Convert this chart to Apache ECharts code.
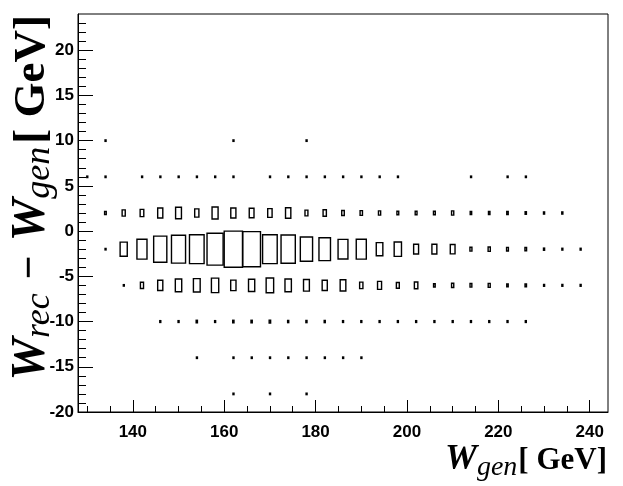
<!DOCTYPE html>
<html><head><meta charset="utf-8">
<script src="https://cdn.jsdelivr.net/npm/echarts@6/dist/echarts.min.js"></script>
<style>html,body{margin:0;padding:0;background:#fff}#c{width:623px;height:486px}</style>
</head><body><div id="c"></div>
<script>
// bin centres (GeV), bin width 4
const xCenters = [130,134,138,142,146,150,154,158,162,166,170,174,178,182,186,190,194,198,202,206,210,214,218,222,226,230,234,238,242];
const yCenters = [10, 6, 2, -2, -6, -10, -14, -18];
// relative bin contents per row (box size proportional to content)
const rowP10 = [0,4,0,0,0,0,0,0,4,0,0,0,4,0,0,0,0,0,0,0,0,0,0,0,0,0,0,0,0];
const rowP6  = [4,4,0,4,4,4,4,4,4,0,4,4,4,4,4,4,4,4,0,0,0,4,0,4,4,0,0,0,0];
const rowP2  = [0,9,17,20,28,32,23,33,28,26,24,29,16,18,14,13,12,10,10,10,12,8,8,8,7,6,6,0,0];
const rowM2  = [0,4,39,55,72,77,80,88,100,97,80,78,67,63,54,55,36,40,27,27,26,11,12,10,9,6,5,5,0];
const rowM6  = [0,0,4,17,28,35,37,40,29,34,41,35,32,28,31,18,22,16,19,9,12,10,11,8,8,5,5,5,0];
const rowM10 = [0,0,0,0,5,5,7,5,7,7,8,6,6,6,5,5,5,5,5,5,5,5,5,5,5,0,0,0,0];
const rowM14 = [0,0,0,0,0,0,4,0,4,4,4,4,4,4,4,4,0,0,0,0,0,0,0,0,0,0,0,0,0];
const rowM18 = [0,0,0,0,0,0,0,0,4,0,4,0,4,0,0,0,0,0,0,0,0,0,0,0,0,0,0,0,0];
const rows = [rowP10, rowP6, rowP2, rowM2, rowM6, rowM10, rowM14, rowM18];

const xLabels = [140,160,180,200,220,240];
const xMinor = [130,135,140,145,150,155,160,165,170,175,180,185,190,195,200,205,210,215,220,225,230,235,240];
const yLabels = [-20,-15,-10,-5,0,5,10,15,20];
const yMinor = [];
for (let v = -19; v <= 23; v++) yMinor.push(v);

const binW = 4, binH = 4;
let maxV = 0;
const data = [];
rows.forEach((r, j) => r.forEach((v, i) => {
  if (v > 0) { data.push([xCenters[i], yCenters[j], v]); if (v > maxV) maxV = v; }
}));

// text measuring for composed titles
const mctx = document.createElement('canvas').getContext('2d');
function tw(text, font) { mctx.font = font; return mctx.measureText(text).width; }
const SERIF = 'Liberation Serif';
function part(text, size, italic, bold, dy, gap) {
  return {text, size, italic, bold, dy, gap: gap || 0,
          font: (italic ? 'italic ' : '') + (bold ? 'bold ' : '') + size + 'px "' + SERIF + '"'};
}
// build children laid out along local x; baseline at local y=0
function buildTitle(parts) {
  let x = 0; const children = [];
  parts.forEach(p => {
    x += p.gap;
    children.push({type: 'text', x: x, y: p.dy + 0.216 * p.size,
      style: {text: p.text, fontFamily: SERIF, fontSize: p.size,
              fontStyle: p.italic ? 'italic' : 'normal', fontWeight: p.bold ? 'bold' : 'normal',
              fill: '#000', align: 'left', verticalAlign: 'bottom'}});
    x += tw(p.text, p.font);
  });
  return {children, width: x};
}
const xt = buildTitle([part('W', 36, true, true, 0), part('gen', 28, true, false, 6), part('[ GeV]', 31, false, true, 0, 1)]);
const yt = buildTitle([part('W', 48, true, true, 0), part('rec', 36, true, false, 5), part('−', 42, false, true, -2, 14),
                       part('W', 48, true, true, 0, 14), part('gen', 36, true, false, 5), part('[ GeV]', 45, false, true, 0, 3)]);

const chart = echarts.init(document.getElementById('c'), null, {renderer: 'canvas'});
const lblFont = {color: '#000', fontFamily: 'Liberation Sans', fontWeight: 'bold', fontSize: 17};
const option = {
  backgroundColor: '#fff',
  animation: false,
  grid: {left: 78, right: 15, top: 14, bottom: 74, show: true, borderColor: '#000', borderWidth: 1, backgroundColor: 'transparent'},
  xAxis: [
    {type: 'value', min: 128, max: 244, position: 'bottom',
     axisLine: {show: true, onZero: false, lineStyle: {color: '#000', width: 1}},
     axisTick: {show: true, inside: true, length: 12, customValues: xLabels, lineStyle: {color: '#000'}},
     axisLabel: Object.assign({show: true, margin: 12, customValues: xLabels}, lblFont),
     splitLine: {show: false}},
    {type: 'value', min: 128, max: 244, position: 'bottom',
     axisLine: {show: false, onZero: false},
     axisTick: {show: true, inside: true, length: 6, customValues: xMinor, lineStyle: {color: '#000'}},
     axisLabel: {show: false}, splitLine: {show: false}}
  ],
  yAxis: [
    {type: 'value', min: -20, max: 24, position: 'left',
     axisLine: {show: true, onZero: false, lineStyle: {color: '#000', width: 1}},
     axisTick: {show: true, inside: true, length: 15, customValues: yLabels, lineStyle: {color: '#000'}},
     axisLabel: Object.assign({show: true, margin: 4, customValues: yLabels}, lblFont),
     splitLine: {show: false}},
    {type: 'value', min: -20, max: 24, position: 'left',
     axisLine: {show: false, onZero: false},
     axisTick: {show: true, inside: true, length: 8, customValues: yMinor, lineStyle: {color: '#000'}},
     axisLabel: {show: false}, splitLine: {show: false}}
  ],
  series: [{
    type: 'custom',
    xAxisIndex: 0, yAxisIndex: 0,
    data: data,
    renderItem: function (params, api) {
      const x = api.value(0), y = api.value(1), v = api.value(2);
      const f = v / maxV;
      const p0 = api.coord([x - binW / 2 * f, y + binH / 2 * f]);
      const p1 = api.coord([x + binW / 2 * f, y - binH / 2 * f]);
      const w = Math.max(1, p1[0] - p0[0]);
      const h = Math.max(1, p1[1] - p0[1]);
      return {type: 'rect', shape: {x: p0[0], y: p0[1], width: w, height: h},
              style: {fill: 'none', stroke: '#000', lineWidth: 1.4}};
    }
  }],
  graphic: [
    {type: 'group', x: 607 - xt.width, y: 470, children: xt.children},
    {type: 'group', x: 45, y: 15 + yt.width, rotation: Math.PI / 2, children: yt.children}
  ]
};
chart.setOption(option);
</script>
</body></html>
